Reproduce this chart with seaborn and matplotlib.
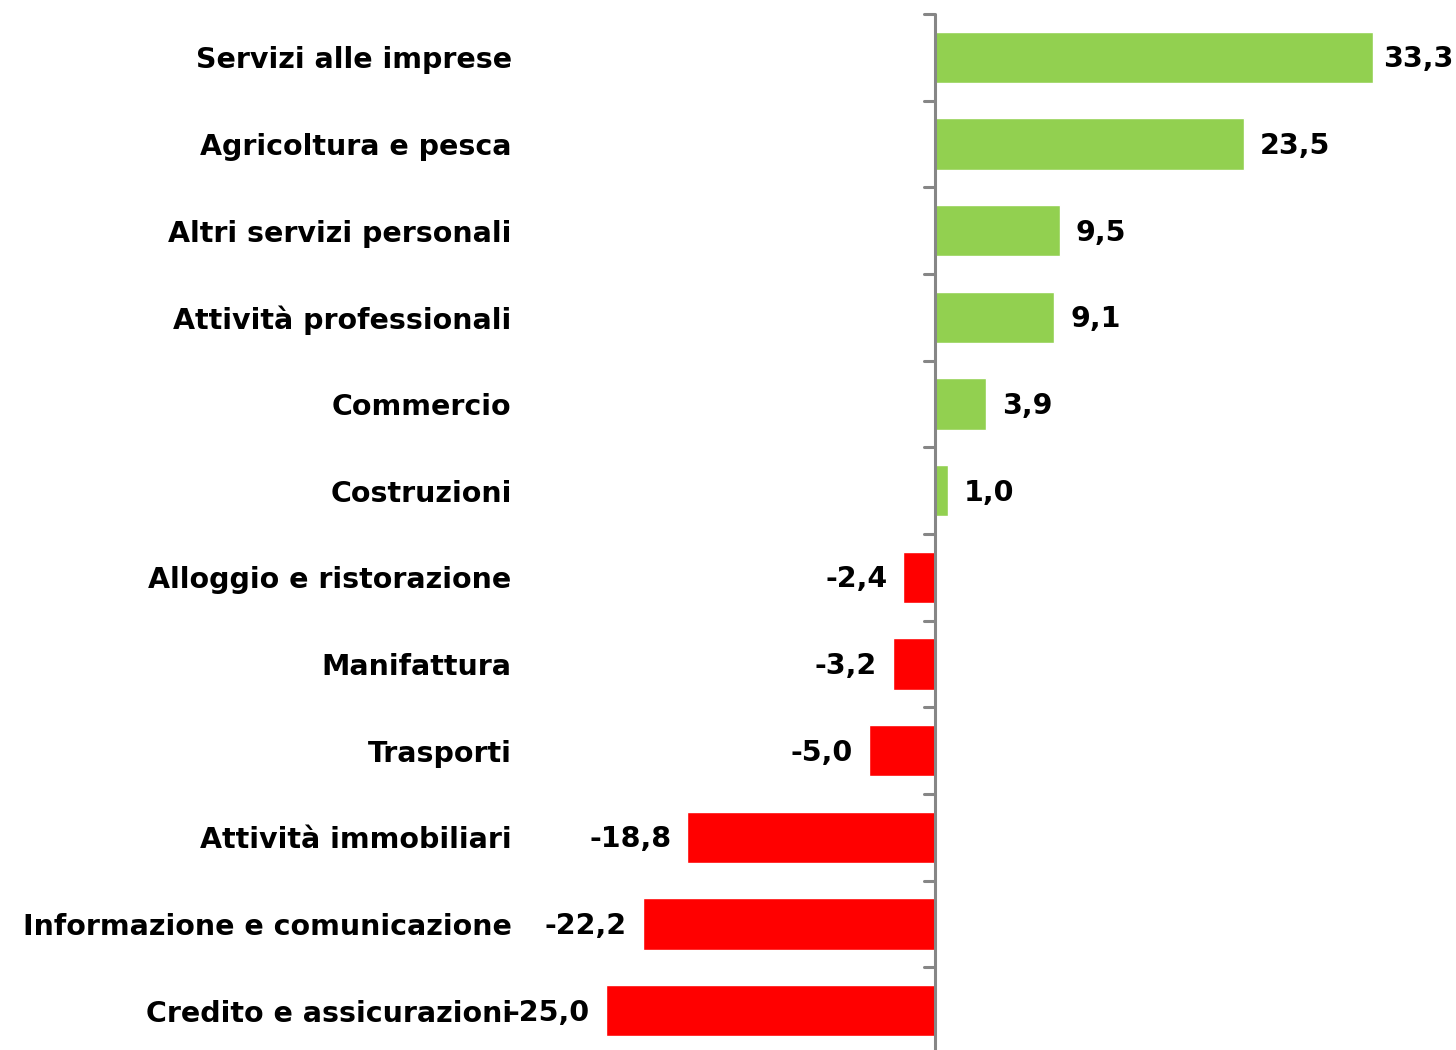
import matplotlib
matplotlib.use("Agg")
import matplotlib.pyplot as plt
import seaborn as sns
import pandas as pd
import numpy as np

categories = ["Servizi alle imprese", "Agricoltura e pesca", "Altri servizi personali",
              "Attività professionali", "Commercio", "Costruzioni",
              "Alloggio e ristorazione", "Manifattura", "Trasporti",
              "Attività immobiliari", "Informazione e comunicazione",
              "Credito e assicurazioni"]
values = [33.3, 23.5, 9.5, 9.1, 3.9, 1.0, -2.4, -3.2, -5.0, -18.8, -22.2, -25.0]

df = pd.DataFrame({"cat": categories, "val": values})
df["sign"] = np.where(df["val"] >= 0, "pos", "neg")

sns.set_theme(style="white")
plt.rcParams['font.family'] = ['DejaVu Sans']

fig = plt.figure(figsize=(14.56, 10.5), dpi=100)
ax = fig.add_axes([527 / 1456, -4 / 1050, 868 / 1456, 1040 / 1050])

sns.barplot(data=df, x="val", y="cat", hue="sign",
            palette={"pos": "#92D050", "neg": "#FF0000"},
            order=categories, dodge=False, width=0.59, legend=False,
            saturation=1, ax=ax)

ax.set_xlim(-31, 35)
ax.set_ylim(len(categories) - 0.5, -0.5)

for sp in ax.spines.values():
    sp.set_visible(False)

ax.axvline(0, color="#868686", lw=2.2, zorder=3)
ax.set_xticks([])
ax.set_xlabel("")
ax.set_ylabel("")
ax.tick_params(axis="y", length=0, pad=11)
ax.set_yticks(range(len(categories)))
ax.set_yticklabels(categories, fontsize=20.5, fontweight="bold", color="black")

# category boundary ticks on the axis
for b in np.arange(-0.5, len(categories) + 0.5, 1):
    ax.plot([-0.8, 0], [b, b], color="#868686", lw=2.2, zorder=3, clip_on=False)

fig.canvas.draw()
renderer = fig.canvas.get_renderer()
fig_w = fig.bbox.width

for i, v in enumerate(values):
    lab = f"{v:.1f}".replace(".", ",")
    if v >= 0:
        t = ax.annotate(lab, (v, i), xytext=(16, -2), textcoords="offset pixels",
                        ha="left", va="center", fontsize=20.5, fontweight="bold",
                        color="black", annotation_clip=False)
        bb = t.get_window_extent(renderer)
        over = bb.x1 - (fig_w - 3)
        if over > 0:
            t.xyann = (16 - over, -2)
    else:
        ax.annotate(lab, (v, i), xytext=(-16, -2), textcoords="offset pixels",
                    ha="right", va="center", fontsize=20.5, fontweight="bold",
                    color="black", annotation_clip=False)

fig.savefig("out.png", dpi=100)
